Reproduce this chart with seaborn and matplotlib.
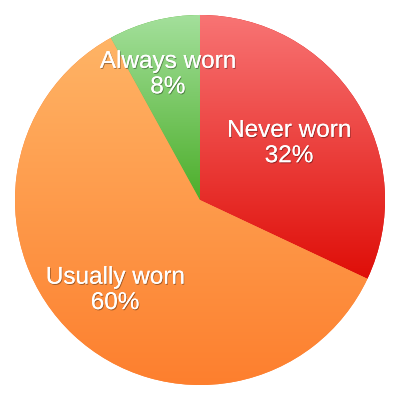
import numpy as np
import matplotlib
matplotlib.use("Agg")
import matplotlib.pyplot as plt
import matplotlib.patheffects as pe
from matplotlib.colors import LinearSegmentedColormap
import seaborn as sns

sns.set_style("white")
plt.rcParams['font.family'] = ['Liberation Sans', 'DejaVu Sans']

# data
labels = ["Never worn", "Usually worn", "Always worn"]
shares = [32, 60, 8]

# looks: top / bottom colour of each slice gradient, label radius
top_colors = ["#f87474", "#ffb466", "#a4e09c"]
bottom_colors = ["#df0e08", "#fd7f2e", "#4cae2a"]
label_radius = [0.57, 0.67, 0.70]

fig = plt.figure(figsize=(4, 4), dpi=100)
ax = fig.add_axes([0, 0, 1, 1])

wedges, _ = ax.pie(shares, startangle=90, counterclock=False, radius=1,
                   colors=bottom_colors, wedgeprops=dict(linewidth=0))

# vertical gradient inside every wedge
grad = np.linspace(0, 1, 256).reshape(-1, 1)
for w, c0, c1 in zip(wedges, top_colors, bottom_colors):
    bb = w.get_path().get_extents(w.get_patch_transform())
    cmap = LinearSegmentedColormap.from_list("g", [c0, c1])
    im = ax.imshow(grad, cmap=cmap, aspect="auto", interpolation="bilinear",
                   extent=[bb.x0, bb.x1, bb.y1, bb.y0], origin="lower", zorder=2)
    im.set_clip_path(w)

shadow = [pe.withSimplePatchShadow(offset=(0.6, -0.8), shadow_rgbFace="#000000", alpha=0.35),
          pe.Normal()]
for w, lab, s, r in zip(wedges, labels, shares, label_radius):
    mid = np.deg2rad((w.theta1 + w.theta2) / 2)
    ax.text(r * np.cos(mid), r * np.sin(mid), f"{lab}\n{s}%", ha="center", va="center",
            color="white", fontsize=17.5, linespacing=1.2, zorder=5, path_effects=shadow)

ax.set_xlim(-1.081, 1.081)
ax.set_ylim(-1.081, 1.081)
ax.set_aspect("equal")
ax.axis("off")
fig.savefig("out.png", dpi=100)
